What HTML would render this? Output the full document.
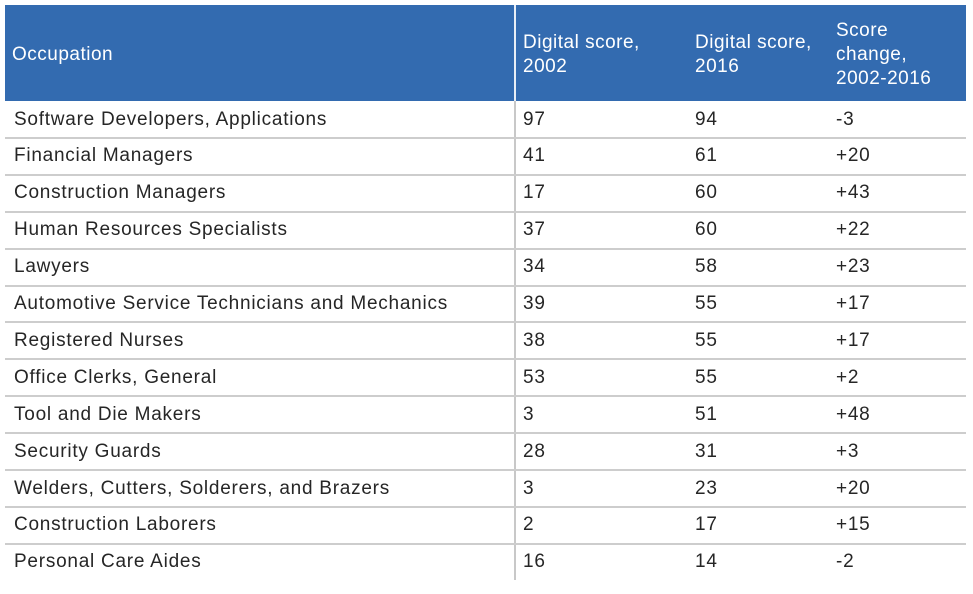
<!DOCTYPE html>
<html><head><meta charset="utf-8"><style>
body{margin:0;width:973px;height:594px;background:#fff;position:relative;overflow:hidden;font-family:"Liberation Sans",sans-serif;color:#262626;}
.h{position:absolute;left:5px;top:5px;width:961px;height:96px;background:#336bb0;}
.sep{position:absolute;left:514px;top:5px;width:2px;height:96px;background:#e8eef6;}
.vsep{position:absolute;left:514px;top:101px;width:2px;height:479px;background:#c8c8c8;}
.ht{position:absolute;color:#fff;font-size:19px;line-height:24px;letter-spacing:0.5px;}
.line{position:absolute;left:5px;width:961px;height:2px;background:#cdcdcd;}
.t{position:absolute;font-size:19px;line-height:24px;white-space:nowrap;letter-spacing:0.75px;}
</style></head><body>
<div class="h"></div><div class="sep"></div><div class="vsep"></div>
<div class="ht" style="left:12px;top:43px">Occupation</div>
<div class="ht" style="left:523px;top:31px">Digital score,<br>2002</div>
<div class="ht" style="left:695px;top:31px">Digital score,<br>2016</div>
<div class="ht" style="left:836px;top:19px">Score<br>change,<br>2002-2016</div>
<div id="rows"></div>
<script>
var d=[["Software Developers, Applications","97","94","-3"],["Financial Managers","41","61","+20"],["Construction Managers","17","60","+43"],["Human Resources Specialists","37","60","+22"],["Lawyers","34","58","+23"],["Automotive Service Technicians and Mechanics","39","55","+17"],["Registered Nurses","38","55","+17"],["Office Clerks, General","53","55","+2"],["Tool and Die Makers","3","51","+48"],["Security Guards","28","31","+3"],["Welders, Cutters, Solderers, and Brazers","3","23","+20"],["Construction Laborers","2","17","+15"],["Personal Care Aides","16","14","-2"]];
var h="",xs=[14,523,695,836];
d.forEach(function(r,i){var top=101+i*36.9;
 if(i>0)h+='<div class="line" style="top:'+(top-1)+'px"></div>';
 r.forEach(function(c,j){h+='<div class="t" style="left:'+xs[j]+'px;top:'+(top+6.5)+'px">'+c+'</div>';});});
document.getElementById("rows").innerHTML=h;
</script>
</body></html>
